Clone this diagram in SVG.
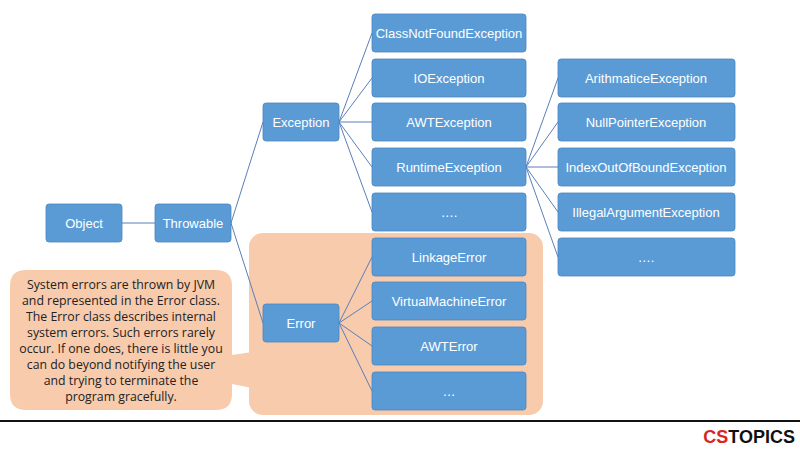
<svg xmlns="http://www.w3.org/2000/svg" width="800" height="450" viewBox="0 0 800 450">
<style>
.b{fill:#5b9bd5;stroke:#4a86c0;stroke-width:0.8}
.t{font-family:"Liberation Sans",Arial,sans-serif;font-size:13px;fill:#fff;text-anchor:middle;dominant-baseline:central}
.c{stroke:#5a7fb8;stroke-width:1;fill:none}
.n{font-family:"Open Sans","Noto Sans",sans-serif;font-size:12.3px;fill:#222;text-anchor:middle}
</style>
<rect width="800" height="450" fill="#fff"/>
<rect x="249" y="233" width="294" height="182" rx="14" fill="#f8cbad"/>
<path d="M26,270 H216 Q232,270 232,286 V355 L252,352 V388 L232,384 V394 Q232,410 216,410 H26 Q10,410 10,394 V286 Q10,270 26,270 Z" fill="#f8cbad"/>
<g id="connectors">
<path class="c" d="M122,223H155 M231,223L263,122 M231,223L263,323 M339,122L372,33 M339,122L372,78 M339,122H372 M339,122L372,167 M339,122L372,212 M526,167L558,78 M526,167L558,122 M526,167H558 M526,167L558,212 M526,167L558,257 M339,323L372,257 M339,323L372,301 M339,323L372,346 M339,323L372,391"/>
</g>
<g id="object"><rect class="b" x="46" y="204" width="76" height="38" rx="3"/><text class="t" x="84" y="223">Object</text></g>
<g id="throwable"><rect class="b" x="155" y="204" width="76" height="38" rx="3"/><text class="t" x="193" y="223">Throwable</text></g>
<g id="exception"><rect class="b" x="263" y="103" width="76" height="38" rx="3"/><text class="t" x="301" y="122">Exception</text></g>
<g id="error"><rect class="b" x="263" y="304" width="76" height="38" rx="3"/><text class="t" x="301" y="323">Error</text></g>
<g id="classnotfound"><rect class="b" x="372" y="14" width="154" height="38" rx="3"/><text class="t" x="449" y="33">ClassNotFoundException</text></g>
<g id="io"><rect class="b" x="372" y="59" width="154" height="38" rx="3"/><text class="t" x="449" y="78">IOException</text></g>
<g id="awt"><rect class="b" x="372" y="103" width="154" height="38" rx="3"/><text class="t" x="449" y="122">AWTException</text></g>
<g id="runtime"><rect class="b" x="372" y="148" width="154" height="38" rx="3"/><text class="t" x="449" y="167">RuntimeException</text></g>
<g id="exdots"><rect class="b" x="372" y="193" width="154" height="38" rx="3"/><text class="t" x="449" y="212">….</text></g>
<g id="linkage"><rect class="b" x="372" y="238" width="154" height="38" rx="3"/><text class="t" x="449" y="257">LinkageError</text></g>
<g id="vm"><rect class="b" x="372" y="282" width="154" height="38" rx="3"/><text class="t" x="449" y="301">VirtualMachineError</text></g>
<g id="awterror"><rect class="b" x="372" y="327" width="154" height="38" rx="3"/><text class="t" x="449" y="346">AWTError</text></g>
<g id="errdots"><rect class="b" x="372" y="372" width="154" height="38" rx="3"/><text class="t" x="449" y="391">…</text></g>
<g id="arith"><rect class="b" x="558" y="59" width="177" height="38" rx="3"/><text class="t" x="646" y="78">ArithmaticeException</text></g>
<g id="nullptr"><rect class="b" x="558" y="103" width="177" height="38" rx="3"/><text class="t" x="646" y="122">NullPointerException</text></g>
<g id="index"><rect class="b" x="558" y="148" width="177" height="38" rx="3"/><text class="t" x="646" y="167">IndexOutOfBoundException</text></g>
<g id="illegal"><rect class="b" x="558" y="193" width="177" height="38" rx="3"/><text class="t" x="646" y="212">IllegalArgumentException</text></g>
<g id="rtdots"><rect class="b" x="558" y="238" width="177" height="38" rx="3"/><text class="t" x="646" y="257">….</text></g>
<g id="note">
<text class="n" x="121" y="289">System errors are thrown by JVM</text>
<text class="n" x="121" y="305">and represented  in the Error class.</text>
<text class="n" x="121" y="321">The Error class describes internal</text>
<text class="n" x="121" y="337">system errors. Such errors rarely</text>
<text class="n" x="121" y="353">occur. If one does, there is little you</text>
<text class="n" x="121" y="369">can do beyond notifying the user</text>
<text class="n" x="121" y="385">and trying to terminate the</text>
<text class="n" x="121" y="401">program gracefully.</text>
</g>
<line x1="0" y1="421" x2="800" y2="421" stroke="#111" stroke-width="2"/>
<text x="795" y="443" text-anchor="end" font-family="'Liberation Sans',Arial,sans-serif" font-weight="bold" font-size="18"><tspan fill="#d9261c">CS</tspan><tspan fill="#111">TOPICS</tspan></text>
</svg>
